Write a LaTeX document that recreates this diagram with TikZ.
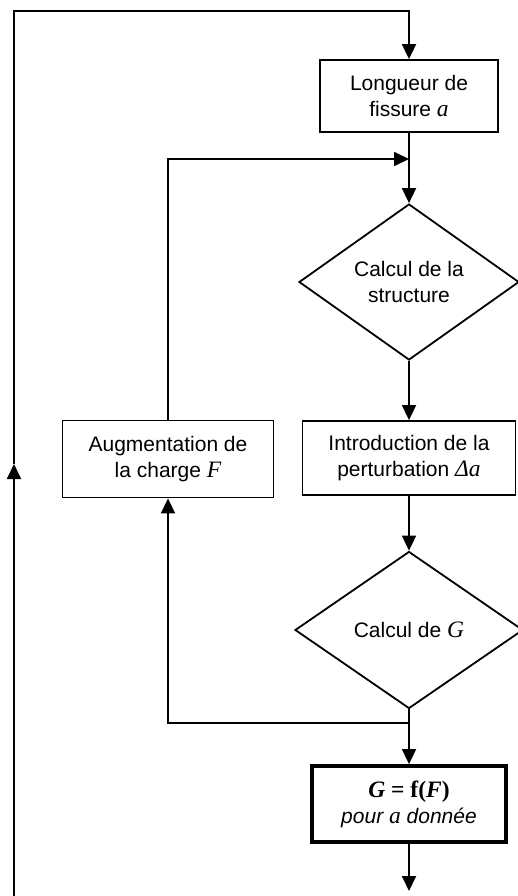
\documentclass[tikz,border=0pt]{standalone}
\usepackage{fontspec}
\setmainfont{Liberation Sans}
\newfontfamily\tms[Scale=1.12]{Liberation Serif}
\usetikzlibrary{arrows.meta,shapes.geometric}
\newcommand\mi[1]{{\tms\itshape #1}}
\begin{document}
\begin{tikzpicture}[x=1pt,y=-1pt,
  line width=1.8pt,
  font=\fontsize{21}{26}\selectfont,
  arr/.style={-{Triangle[length=15pt,width=14pt]}},
  procbox/.style={draw,rectangle,align=center,inner sep=0pt},
  decision/.style={draw,diamond,align=center,inner sep=0pt}]
\useasboundingbox (0,0) rectangle (518,896);
\node[procbox,minimum width=178pt,minimum height=72pt] (len) at (409,96) {Longueur de\\fissure \mi{a}};
\node[decision,minimum width=220pt,minimum height=156pt] (calc) at (409,282) {Calcul de la\\structure};
\node[procbox,minimum width=213pt,minimum height=74pt] (pert) at (409,458) {Introduction de la\\perturbation \mi{Δa}};
\node[procbox,minimum width=211pt,minimum height=77pt] (aug) at (168,459) {Augmentation de\\la charge \mi{F}};
\node[decision,minimum width=228pt,minimum height=157pt] (calcG) at (409,630) {Calcul de \mi{G}};
\node[procbox,line width=3.8pt,minimum width=194pt,minimum height=76pt] (res) at (409,804) {{\tms\bfseries{\itshape G} = f({\itshape F})}\\{\itshape pour {\tms a} donnée}};
\coordinate (tl) at (14,11);
\coordinate (bl) at (14,896);
\coordinate (lm) at (14,464);
\coordinate (tr) at (409,11);
\coordinate (j1) at (409,159);
\coordinate (l1) at (168,159);
\coordinate (j2) at (409,723);
\coordinate (l2) at (168,723);
\coordinate (end) at (409,891);
\draw[arr] (bl) -- (lm);
\draw[arr] (lm) -- (tl) -- (tr) -- (len.north);
\draw[arr] (len.south) -- (calc.north);
\draw[arr] (aug.north) -- (l1) -- (j1);
\draw[arr] (calc.south) -- (pert.north);
\draw[arr] (pert.south) -- (calcG.north);
\draw[arr] (calcG.south) -- (res.north);
\draw[arr] (j2) -- (l2) -- (aug.south);
\draw[arr] (res.south) -- (end);
\end{tikzpicture}
\end{document}
